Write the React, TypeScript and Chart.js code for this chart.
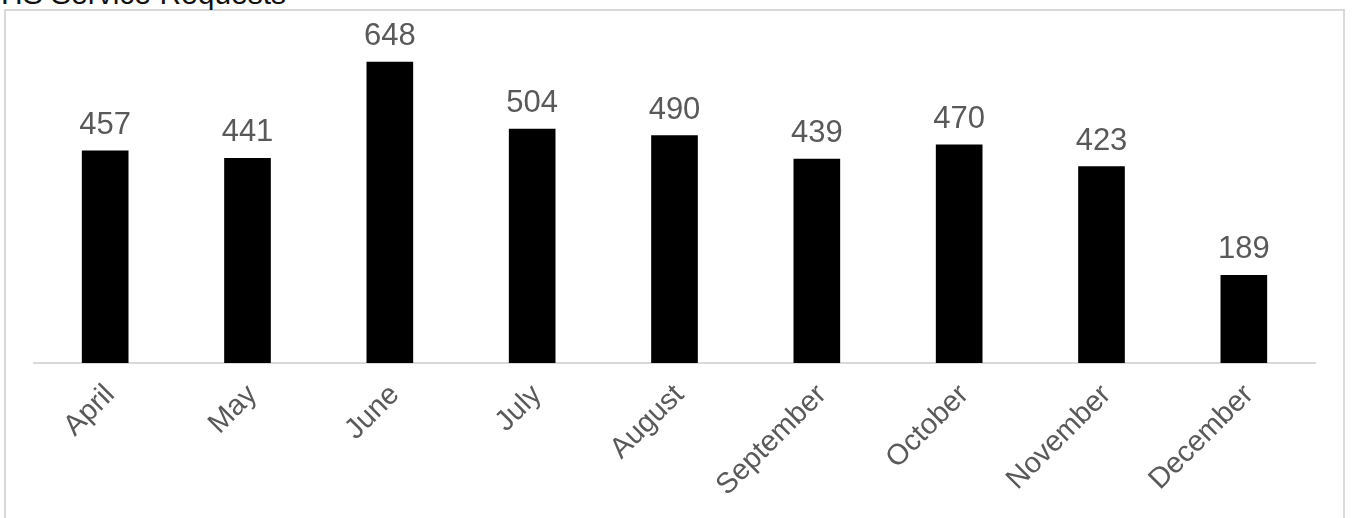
import React, { useEffect, useRef } from "react";
import { Chart, registerables } from "chart.js";

Chart.register(...registerables);

const chartTitle = "HS Service Requests";
const categories = ["April", "May", "June", "July", "August", "September", "October", "November", "December"];
const requests = [457, 441, 648, 504, 490, 439, 470, 423, 189];
const yMin = 0;
const yMax = 700;

const FONT = "'Liberation Sans', Arial, Helvetica, sans-serif";
const LABEL_COLOR = "#595959";

const valueLabels = {
  id: "valueLabels",
  afterDatasetsDraw(chart: any) {
    const ctx = chart.ctx;
    const meta = chart.getDatasetMeta(0);
    const data = chart.data.datasets[0].data as number[];
    ctx.save();
    ctx.font = `31px ${FONT}`;
    ctx.fillStyle = LABEL_COLOR;
    ctx.textAlign = "center";
    ctx.textBaseline = "alphabetic";
    meta.data.forEach((bar: any, i: number) => {
      ctx.fillText(String(data[i]), bar.x, bar.y - 17);
    });
    ctx.restore();
  },
};

export default function App() {
  const canvasRef = useRef<HTMLCanvasElement | null>(null);

  useEffect(() => {
    document.body.style.margin = "0";
    const canvas = canvasRef.current;
    if (!canvas) return;
    const chart = new Chart(canvas, {
      type: "bar",
      data: {
        labels: categories,
        datasets: [
          {
            label: chartTitle,
            data: requests,
            backgroundColor: "#000000",
            borderWidth: 0,
            barThickness: 46,
          },
        ],
      },
      options: {
        animation: false,
        responsive: false,
        maintainAspectRatio: false,
        devicePixelRatio: 1,
        layout: { padding: { left: 34, right: 37, top: 38, bottom: 0 } },
        plugins: {
          legend: { display: false },
          title: { display: false },
          tooltip: { enabled: false },
        },
        scales: {
          x: {
            grid: { display: false, drawTicks: false },
            border: { display: true, color: "#d9d9d9", width: 2 },
            ticks: {
              autoSkip: false,
              minRotation: 45,
              maxRotation: 45,
              padding: 15,
              labelOffset: 5,
              color: LABEL_COLOR,
              font: { family: FONT, size: 29 },
            },
            afterFit: (scale: any) => {
              scale.height = 155;
            },
          },
          y: {
            display: false,
            min: yMin,
            max: yMax,
          },
        },
      },
      plugins: [valueLabels],
    });
    return () => chart.destroy();
  }, []);

  return (
    <div
      style={{
        position: "fixed",
        left: 0,
        top: 0,
        width: 1352,
        height: 518,
        overflow: "hidden",
        background: "#ffffff",
      }}
    >
      <div
        style={{
          position: "absolute",
          left: 4,
          top: 9,
          width: 1341,
          height: 640,
          boxSizing: "border-box",
          border: "2px solid #d9d9d9",
        }}
      />
      <div
        style={{
          position: "absolute",
          left: 1,
          top: -21,
          fontFamily: FONT,
          fontSize: 30,
          lineHeight: "30px",
          color: "#111111",
          whiteSpace: "nowrap",
        }}
      >
        {chartTitle}
      </div>
      <canvas
        ref={canvasRef}
        width={1352}
        height={518}
        style={{ position: "absolute", left: 0, top: 0, width: 1352, height: 518 }}
      />
    </div>
  );
}
